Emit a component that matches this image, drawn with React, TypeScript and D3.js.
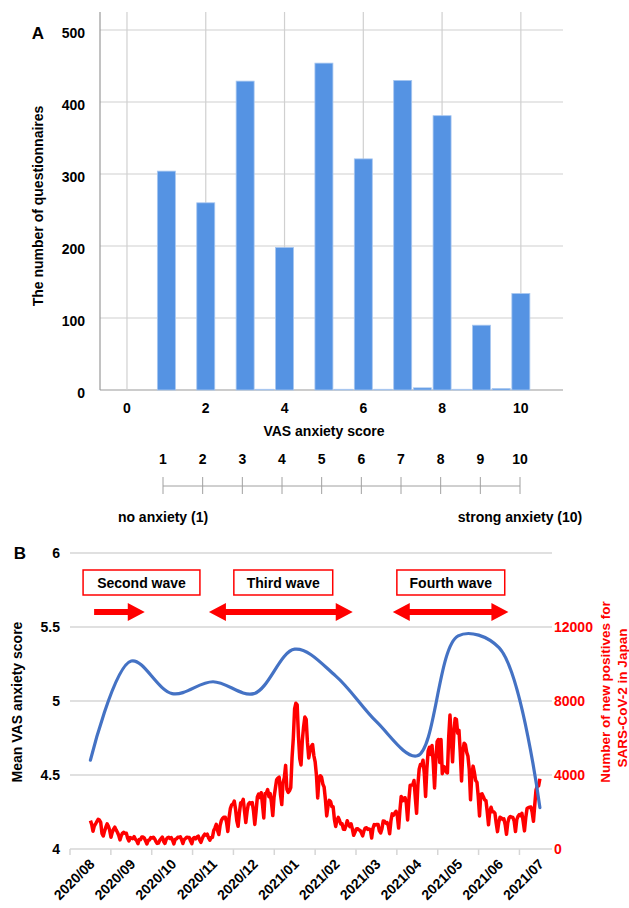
import React from 'react';
import * as d3 from 'd3';

// ---- panel A: VAS anxiety score histogram ----
const scores = [0, 0.5, 1, 1.5, 2, 2.5, 3, 3.5, 4, 4.5, 5, 5.5, 6, 6.5, 7, 7.5, 8, 8.5, 9, 9.5, 10];
const questionnaires = [0, 0, 304, 0, 260, 0, 429, 1, 198, 0, 454, 1, 321, 1, 430, 3, 381, 1, 90, 2, 134];
const scoreTicks = [0, 2, 4, 6, 8, 10];
const countTicks = [0, 100, 200, 300, 400, 500];
const vasPoints = [1, 2, 3, 4, 5, 6, 7, 8, 9, 10];

// ---- panel B: monthly mean VAS + daily new positives ----
const months = ['2020/08', '2020/09', '2020/10', '2020/11', '2020/12', '2021/01',
  '2021/02', '2021/03', '2021/04', '2021/05', '2021/06', '2021/07'];
const meanVas = [4.6, 5.27, 5.05, 5.13, 5.05, 5.35, 5.17, 4.86, 4.63, 5.44, 5.36, 4.28];
const vasTicks = [4, 4.5, 5, 5.5, 6];
const positiveTicks = [0, 4000, 8000, 12000];

// daily new positives, starting 2020-08-01
const aug2020 = [1536, 1331, 959, 1236, 1354, 1485, 1605, 1566, 1440, 842, 700, 966, 1176, 1357, 1227, 1010, 632, 906, 1070, 1178, 1033, 906, 741, 493, 718, 857, 901, 849, 845, 581, 432];
const sep2020 = [619, 590, 562, 668, 527, 457, 286, 508, 507, 649, 644, 585, 432, 271, 463, 494, 615, 596, 638, 550, 405, 301, 320, 480, 550, 645, 400, 301, 520, 601];
const oct2020 = [639, 567, 614, 464, 277, 524, 547, 630, 630, 660, 500, 295, 510, 570, 640, 620, 620, 430, 290, 570, 620, 550, 650, 700, 500, 360, 550, 700, 800, 750, 800];
const nov2020 = [600, 480, 620, 620, 1000, 1140, 1330, 1000, 780, 1280, 1550, 1660, 1720, 1720, 1440, 950, 1700, 2200, 2390, 2420, 2590, 2160, 1520, 1230, 1950, 2500, 2500, 2680, 2050, 1430];
const dec2020 = [2030, 2430, 2510, 2440, 2510, 2050, 1330, 2030, 2810, 2970, 2790, 3040, 2400, 1680, 2990, 3020, 3210, 2830, 2990, 2500, 1810, 2800, 3270, 3740, 3830, 3880, 2950, 2400, 3600, 3850, 4520];
const jan2021 = [3230, 3060, 3150, 3320, 4910, 6000, 7570, 7880, 7790, 6090, 4880, 4540, 5870, 6600, 7130, 7010, 5760, 4920, 5320, 5540, 5650, 5040, 4710, 3990, 2760, 3850, 3960, 3880, 3510, 3340, 2670];
const feb2021 = [1790, 2320, 2630, 2570, 2290, 2280, 1600, 1220, 1560, 1710, 1540, 1350, 1360, 1070, 1060, 1260, 1530, 1310, 1210, 1360, 1070, 740, 900, 1080, 1100, 1040, 1000, 880];
const mar2021 = [710, 980, 1130, 1150, 1060, 1080, 1050, 600, 1110, 1320, 1300, 1330, 1330, 980, 870, 1100, 1510, 1500, 1400, 1430, 1250, 820, 1510, 1900, 1830, 1940, 2040, 1780, 1130, 2080, 2840];
const apr2021 = [2600, 2750, 2770, 2470, 1570, 2650, 3450, 3450, 3470, 3700, 2780, 1930, 3450, 4310, 4570, 4530, 4800, 4090, 2840, 4340, 5290, 5500, 5110, 5600, 4600, 3300, 4900, 5800, 5920, 4680];
const may2021 = [5920, 4070, 4460, 4420, 4170, 4110, 6050, 7240, 6060, 4710, 6210, 7050, 7000, 6260, 6410, 5230, 3680, 5230, 5720, 5640, 5230, 5010, 4300, 2660, 4000, 4480, 4140, 3700, 3610, 2840, 1790];
const jun2021 = [2950, 2980, 2830, 2650, 2620, 2020, 1310, 2050, 2260, 2010, 2010, 1940, 1390, 940, 1440, 1720, 1680, 1600, 1630, 1310, 800, 1410, 1680, 1760, 1720, 1700, 1500, 940, 1580, 1770];
const jul2021 = [1860, 1800, 1930, 1490, 980, 1690, 2180, 2240, 2260, 2270, 1990, 1500, 2370, 3190, 3410, 3410, 3800];

const newPositives = [...aug2020, ...sep2020, ...oct2020, ...nov2020, ...dec2020, ...jan2021,
  ...feb2021, ...mar2021, ...apr2021, ...may2021, ...jun2021, ...jul2021];

const waveLabels = ['Second wave', 'Third wave', 'Fourth wave'];

const FONT = '"Liberation Sans", Arial, sans-serif';
const RED = '#ff0000';

// arrow polygon, optional heads at either end
function arrowPath(x1: number, x2: number, y: number, left: boolean, right: boolean) {
  const hl = 17, hh = 9, sh = 3;
  const a = left ? x1 + hl : x1;
  const b = right ? x2 - hl : x2;
  const p = d3.path();
  if (left) {
    p.moveTo(x1, y);
    p.lineTo(a, y - hh);
    p.lineTo(a, y - sh);
  } else {
    p.moveTo(x1, y - sh);
  }
  if (right) {
    p.lineTo(b, y - sh);
    p.lineTo(b, y - hh);
    p.lineTo(x2, y);
    p.lineTo(b, y + hh);
    p.lineTo(b, y + sh);
  } else {
    p.lineTo(x2, y - sh);
    p.lineTo(x2, y + sh);
  }
  if (left) {
    p.lineTo(a, y + sh);
    p.lineTo(a, y + hh);
  } else {
    p.lineTo(x1, y + sh);
  }
  p.closePath();
  return p.toString();
}

export default function App() {
  // panel A scales
  const xA = d3.scaleLinear().domain([-0.685, 11.07]).range([100, 563]);
  const yA = d3.scaleLinear().domain([0, 525]).range([390, 12]);
  const barW = 18;
  const vasX = d3.scaleLinear().domain([1, 10]).range([163, 520]);

  // panel B scales
  const xB = d3.scaleBand().domain(months).range([70, 560.3]);
  const bw = xB.bandwidth();
  const mid = (m: string) => (xB(m) as number) + bw / 2;
  const plotLeft = 70, plotRight = 552;
  const yL = d3.scaleLinear().domain([4, 6]).range([849, 553]);
  const yR = d3.scaleLinear().domain([0, 16000]).range([849, 553]);
  const startDay = new Date(2020, 7, 1);
  const days = newPositives.map((_, i) => d3.timeDay.offset(startDay, i));
  const xRed = d3.scaleTime()
    .domain([days[0], days[days.length - 1]])
    .range([mid(months[0]), mid(months[months.length - 1])]);
  const monthPos = d3.scaleLinear().domain([0, 12]).range([70, 560.3]);

  const blueLine = d3.line<number>()
    .x((_, i) => mid(months[i]))
    .y((v) => yL(v))
    .curve(d3.curveCatmullRom.alpha(0.5));
  const redLine = d3.line<number>()
    .x((_, i) => xRed(days[i]))
    .y((v) => yR(v));

  // wave annotations in month units: [box start, box end], [arrow start, arrow end, left head, right head]
  const waveBoxes = [[0.32, 3.18], [4.01, 6.43], [8.0, 10.64]];
  const waveArrows = [[0.59, 1.83, false, true], [3.4, 6.92, true, true], [7.9, 10.73, true, true]];

  const bold = { fontFamily: FONT, fontWeight: 700, fill: '#000' } as const;

  return (
    <svg width={629} height={908} style={{ position: 'absolute', left: 0, top: 0, background: '#fff' }}>
      {/* ---------- A ---------- */}
      <text x={38} y={33} dy="0.35em" textAnchor="middle" fontSize={17} {...bold}>A</text>
      {countTicks.map((t) => (
        <g key={'ga' + t}>
          <line x1={100} x2={563} y1={yA(t)} y2={yA(t)} stroke={t === 0 ? '#999' : '#d0d0d0'} strokeWidth={1.2} />
          <text x={85} y={yA(t) + 3} dy="0.35em" textAnchor="end" fontSize={14} {...bold}>{t}</text>
        </g>
      ))}
      {scoreTicks.map((t) => (
        <g key={'gx' + t}>
          <line x1={xA(t)} x2={xA(t)} y1={12} y2={390} stroke="#d0d0d0" strokeWidth={1.2} />
          <text x={xA(t)} y={408} dy="0.35em" textAnchor="middle" fontSize={14} {...bold}>{t}</text>
        </g>
      ))}
      <line x1={100} x2={100} y1={12} y2={390} stroke="#999" strokeWidth={1.2} />
      {scores.map((s, i) => questionnaires[i] > 0 && (
        <rect key={'b' + s} x={xA(s) - barW / 2} y={yA(questionnaires[i])}
          width={barW} height={yA(0) - yA(questionnaires[i])}
          fill="#5593e3" stroke="#a8c7f0" strokeWidth={0.8} />
      ))}
      <text transform="translate(38,206) rotate(-90)" dy="0.35em" textAnchor="middle" fontSize={14} {...bold}>
        The number of questionnaires
      </text>
      <text x={324} y={431} dy="0.35em" textAnchor="middle" fontSize={14} {...bold}>VAS anxiety score</text>

      {/* VAS scale */}
      {vasPoints.map((v) => (
        <g key={'v' + v}>
          <text x={vasX(v)} y={459} dy="0.35em" textAnchor="middle" fontSize={14} {...bold}>{v}</text>
          <line x1={vasX(v)} x2={vasX(v)} y1={477} y2={494} stroke="#a0a0a0" strokeWidth={1} />
        </g>
      ))}
      <line x1={vasX(1)} x2={vasX(10)} y1={486} y2={486} stroke="#a0a0a0" strokeWidth={1} />
      <text x={vasX(1)} y={517} dy="0.35em" textAnchor="middle" fontSize={14} {...bold}>no anxiety (1)</text>
      <text x={vasX(10)} y={517} dy="0.35em" textAnchor="middle" fontSize={14} {...bold}>strong anxiety (10)</text>

      {/* ---------- B ---------- */}
      <text x={20} y={553} dy="0.35em" textAnchor="middle" fontSize={17} {...bold}>B</text>
      {vasTicks.map((t) => (
        <g key={'gl' + t}>
          <line x1={plotLeft} x2={plotRight} y1={yL(t)} y2={yL(t)} stroke="#d6d6d6" strokeWidth={1.5} />
          <text x={60} y={yL(t)} dy="0.35em" textAnchor="end" fontSize={14} {...bold}>{t}</text>
        </g>
      ))}
      {positiveTicks.map((t) => (
        <text key={'r' + t} x={554} y={yR(t)} dy="0.35em" textAnchor="start" fontSize={14} {...bold} fill={RED}>{t}</text>
      ))}
      {months.map((m) => (
        <g key={'m' + m}>
          <line x1={xB(m)} x2={xB(m)} y1={849} y2={855} stroke="#d6d6d6" strokeWidth={1.5} />
          <text transform={`translate(${mid(m) + 5},865) rotate(-45)`} textAnchor="end" fontSize={14} {...bold}>{m}</text>
        </g>
      ))}
      <text transform="translate(17,702) rotate(-90)" dy="0.35em" textAnchor="middle" fontSize={14} {...bold}>
        Mean VAS anxiety score
      </text>
      <text transform="translate(605,692) rotate(-90)" dy="0.35em" textAnchor="middle" fontSize={13.5} {...bold} fill={RED}>
        Number of new positives for
      </text>
      <text transform="translate(622,698) rotate(-90)" dy="0.35em" textAnchor="middle" fontSize={13.5} {...bold} fill={RED}>
        SARS-CoV-2 in Japan
      </text>

      {waveLabels.map((w, i) => {
        const [b0, b1] = waveBoxes[i];
        const [a0, a1, l, r] = waveArrows[i] as [number, number, boolean, boolean];
        return (
          <g key={w}>
            <rect x={monthPos(b0)} y={570} width={monthPos(b1) - monthPos(b0)} height={25}
              fill="#fff" stroke={RED} strokeWidth={1.5} />
            <text x={(monthPos(b0) + monthPos(b1)) / 2} y={583} dy="0.35em" textAnchor="middle" fontSize={14} {...bold}>{w}</text>
            <path d={arrowPath(monthPos(a0), monthPos(a1), 612, l, r)} fill={RED} />
          </g>
        );
      })}

      <path d={redLine(newPositives) || ''} fill="none" stroke={RED} strokeWidth={3.5} strokeLinejoin="round" />
      <path d={blueLine(meanVas) || ''} fill="none" stroke="#4472c4" strokeWidth={3.2} strokeLinecap="round" />
    </svg>
  );
}
